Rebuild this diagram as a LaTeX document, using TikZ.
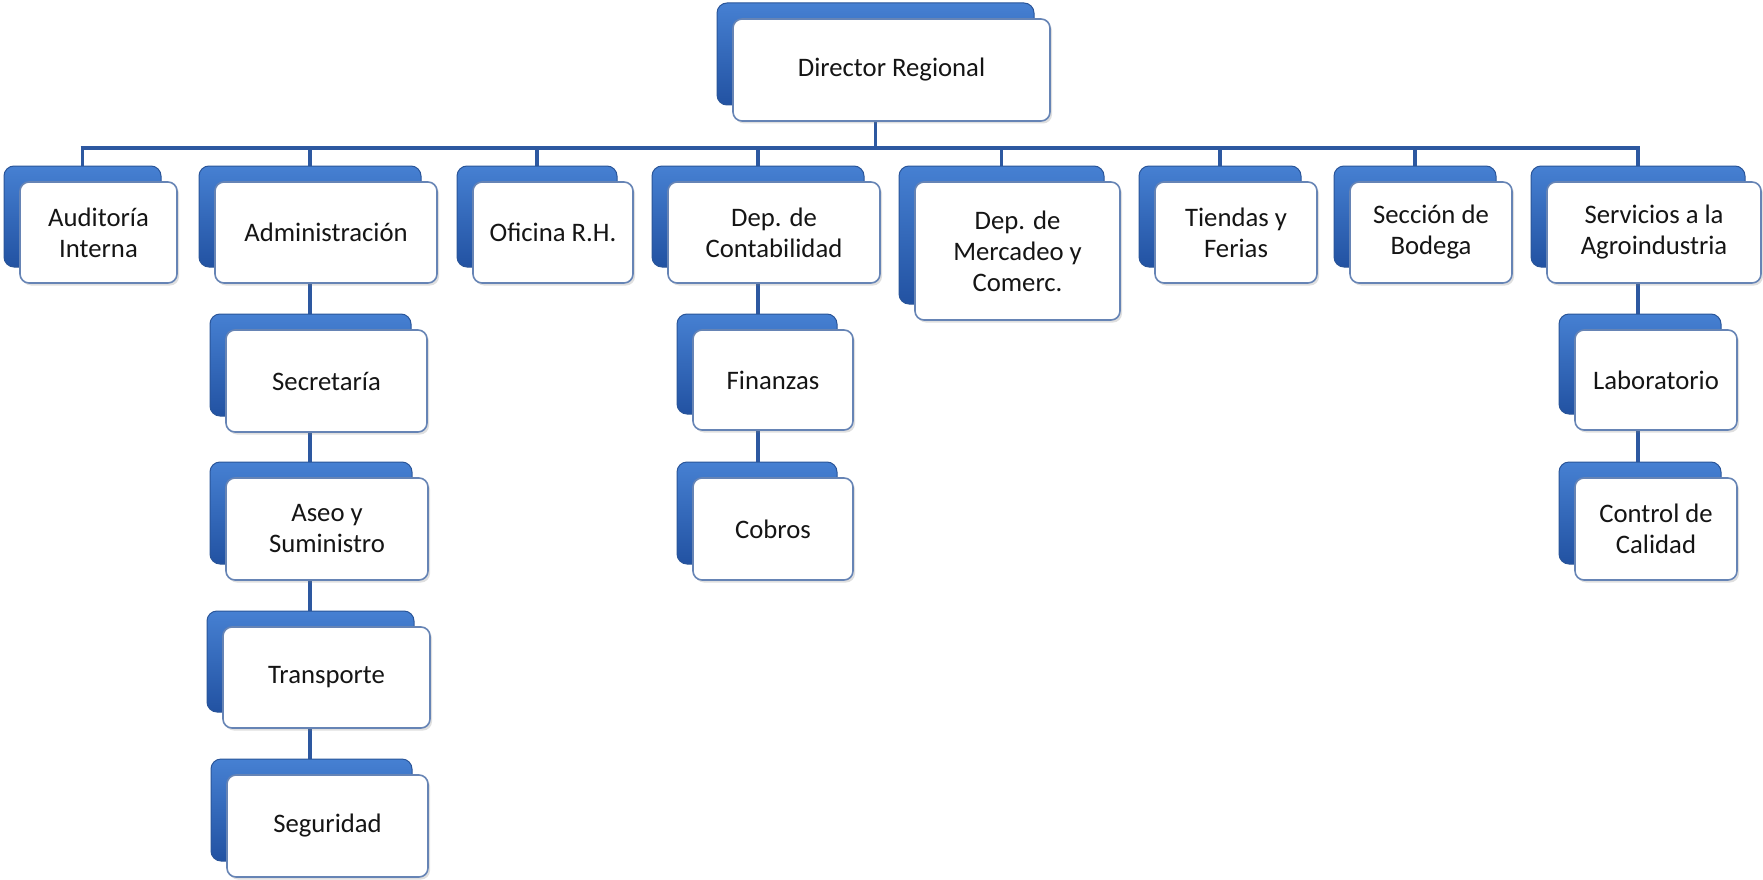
\documentclass[tikz,border=0pt]{standalone}
\usepackage{fontspec}
\setmainfont{Carlito}
\usetikzlibrary{shadows}
\pgfdeclarelayer{paper}
\pgfdeclarelayer{bg}
\pgfsetlayers{paper,bg,main}
\definecolor{linkblue}{HTML}{2D58A0}
\definecolor{backtop}{HTML}{4680D2}
\definecolor{backbot}{HTML}{2252A2}
\definecolor{backedge}{HTML}{2A5599}
\definecolor{frontedge}{HTML}{6684B5}
\definecolor{txt}{HTML}{151515}
\tikzset{
  backbox/.style={rectangle, rounded corners=10pt, top color=backtop, bottom color=backbot, draw=backedge, line width=1pt, inner sep=0pt},
  frontbox/.style={rectangle, rounded corners=9pt, fill=white, draw=frontedge, line width=1.6pt, inner sep=0pt, align=center, text=txt,
    font=\fontsize{26.7}{31}\selectfont,
    drop shadow={opacity=0.25, shadow xshift=2pt, shadow yshift=-2.5pt}},
  conn/.style={draw=linkblue, line width=3.6pt}
}
\newcommand\obox[6]{%
  \node[backbox, minimum width=#4pt, minimum height=#5pt] (#1b) at ({#2-16},{#3-16}) {};
  \node[frontbox, minimum width=#4pt, minimum height=#5pt] (#1) at (#2,#3) {#6};
}
\begin{document}
\begin{tikzpicture}[x=1pt,y=-1pt]
\useasboundingbox (0,0) rectangle (1763,880);
\begin{pgfonlayer}{paper}
\fill[white] (0,0) rectangle (1763,880);
\end{pgfonlayer}
% top
\obox{dir}{891.5}{70}{317}{102}{Director Regional}
% level 1
\obox{aud}{98.5}{232.5}{157}{101}{Auditoría\\Interna}
\obox{adm}{326}{232.5}{222}{101}{Administración}
\obox{ofi}{553}{232.5}{160}{101}{Oficina R.H.}
\obox{con}{774}{232.5}{212}{101}{Dep. de\\Contabilidad}
\obox{mer}{1017.5}{251}{205}{138}{Dep. de\\Mercadeo y\\Comerc.}
\obox{tie}{1236}{232.5}{162}{101}{Tiendas y\\Ferias}
\obox{sbo}{1431}{232.5}{162}{101}{Sección de\\Bodega}
\obox{ser}{1654}{232.5}{214}{101}{Servicios a la\\Agroindustria}
% administration chain
\obox{secr}{326.5}{381}{201}{102}{Secretaría}
\obox{aseo}{327}{529}{202}{102}{Aseo y\\Suministro}
\obox{tra}{326.5}{677.5}{207}{101}{Transporte}
\obox{seg}{327.5}{826}{201}{102}{Seguridad}
% accounting chain
\obox{fin}{773}{380}{160}{100}{Finanzas}
\obox{cob}{773}{529}{160}{102}{Cobros}
% services chain
\obox{lab}{1656}{380}{162}{100}{Laboratorio}
\obox{ctl}{1656}{529}{162}{102}{Control de\\Calidad}
\coordinate (bus) at (0,148);
\begin{pgfonlayer}{bg}
  \draw[conn] (dirb.center) -- (dirb.center |- bus);
  \draw[conn, line cap=butt] ([xshift=-1.8pt]audb.center |- bus) -- ([xshift=1.8pt]serb.center |- bus);
  \foreach \n in {aud,adm,ofi,con,mer,tie,sbo,ser}{
    \draw[conn] (\n b.center |- bus) -- (\n b.center);
  }
  \draw[conn] (admb.center) -- (admb.center |- segb.center);
  \draw[conn] (conb.center) -- (conb.center |- cobb.center);
  \draw[conn] (serb.center) -- (serb.center |- ctlb.center);
\end{pgfonlayer}
\end{tikzpicture}
\end{document}
